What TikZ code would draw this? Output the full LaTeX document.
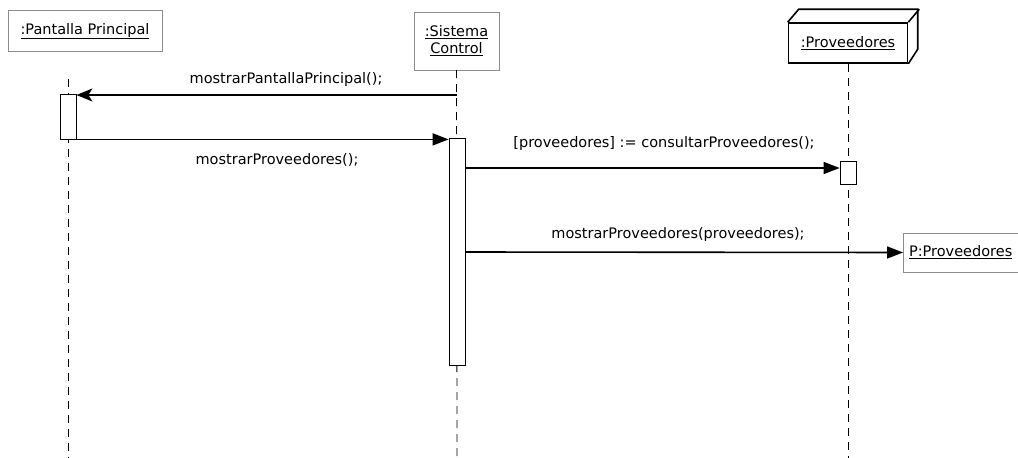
\documentclass[tikz,border=0pt]{standalone}
\usepackage{fontspec}
\setmainfont{DejaVu Sans}
\usepackage{tikz}
\usetikzlibrary{arrows.meta, positioning}
\tikzstyle{objbox} = [rectangle, draw=black!45, fill=white, inner sep=2pt,
  text centered, font=\fontsize{14.5}{17}\selectfont]
\tikzstyle{activ} = [rectangle, draw, thick, fill=white, minimum width=16, inner sep=0pt]
\tikzstyle{lifeline} = [line width=0.8pt, dash pattern=on 8pt off 6pt]
\tikzstyle{msg} = [line width=1.6pt, -{Triangle[length=16pt, width=12pt]}]
\tikzstyle{lbl} = [font=\fontsize{14.5}{17}\selectfont, inner sep=1pt]
\newcommand{\objname}[1]{\underline{#1}}

\begin{document}
\begin{tikzpicture}[x=1pt, y=-1pt]
    \useasboundingbox (0,0) rectangle (1018,458);
    % objects
    \node[objbox, minimum width=154, minimum height=41] (pantalla) at (85,31) {\objname{:Pantalla Principal}};
    \node[objbox, minimum width=85, minimum height=58, align=center] (sistema) at (456.5,41) {\objname{:Sistema}\\\objname{Control}};
    \node[objbox, draw=black, line width=1.6pt, minimum width=119, minimum height=40] (prov) at (848,43) {\objname{:Proveedores}};
    \draw[line width=1.6pt] (prov.north west) -- ++(11,-13) -- ++(119,0) -- ++(0,40) -- (prov.south east);
    \draw[line width=1.6pt] (prov.north east) -- ++(11,-13);
    \node[objbox, minimum width=115, minimum height=39, anchor=west] (pprov) at (903,252.5) {\objname{P:Proveedores}};
    % lifelines
    \coordinate (endP) at (68,458);
    \coordinate (endS) at (457,458);
    \coordinate (endV) at (848,458);
    \draw[lifeline] (pantalla.south -| endP) ++(0,27) -- (endP);
    \draw[lifeline] (sistema.south) -- (endS);
    \draw[lifeline] (prov.south) -- (endV);
    % activations
    \node[activ, minimum height=45] (actP) at (68,116.5) {};
    \node[activ, minimum height=227] (actS) at (457,251.5) {};
    \node[activ, minimum height=23] (actV) at (848,172.5) {};
    % messages
    \coordinate (m1) at (457,95);
    \draw[line width=1.6pt, -{Stealth[length=16pt, width=13pt, inset=4pt]}] (m1) -- (m1 -| actP.east);
    \node[lbl] (l1) at (286,79) {mostrarPantallaPrincipal();};
    \draw[msg] (actP.south east) -- (actP.south east -| actS.west);
    \node[lbl] (l2) at (277,160) {mostrarProveedores();};
    \coordinate (m3) at (465,168);
    \draw[msg] (m3) -- (m3 -| actV.west);
    \node[lbl] (l3) at (664,143) {[proveedores] := consultarProveedores();};
    \coordinate (m4) at (465,252);
    \draw[msg] (m4) -- (pprov.west);
    \node[lbl] (l4) at (678,234) {mostrarProveedores(proveedores);};
  \end{tikzpicture}
\end{document}
